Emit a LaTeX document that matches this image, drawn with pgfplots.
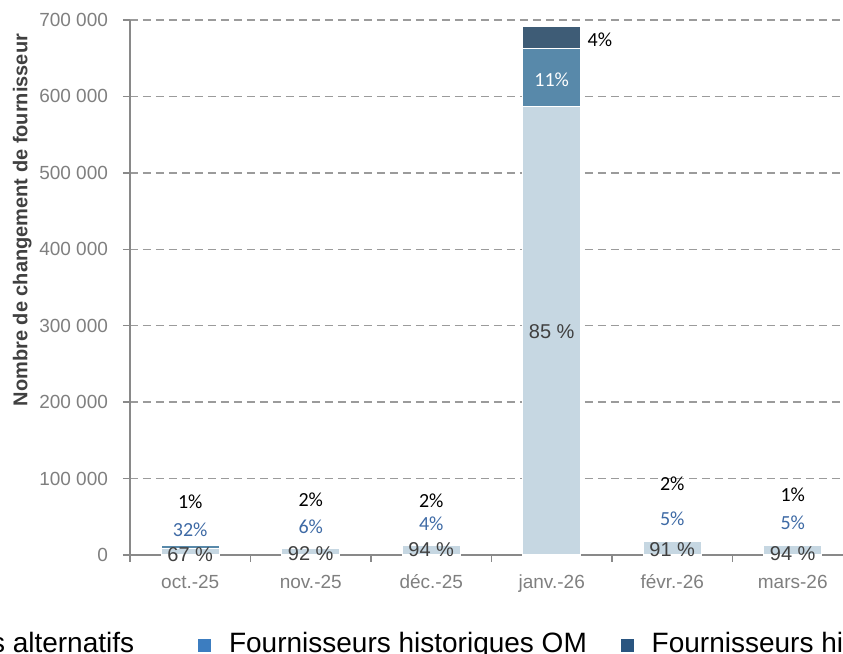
\documentclass[border=0pt]{standalone}
\usepackage{fontspec}
\setmainfont{Liberation Sans}
\newfontfamily\calfont{Carlito}
\usepackage{pgfplots}
\pgfplotsset{compat=1.18}
\definecolor{cLight}{HTML}{C6D7E2}
\definecolor{cMid}{HTML}{5889AA}
\definecolor{cDark}{HTML}{3E5C76}
\definecolor{legMid}{HTML}{3C7DC0}
\definecolor{legDark}{HTML}{2A5580}
\definecolor{axgray}{HTML}{898989}
\definecolor{tickgray}{HTML}{7F7F7F}
\definecolor{lblblue}{HTML}{3E6AA5}
\definecolor{lblgray}{HTML}{404040}
\tikzset{
  pct/.style={font=\calfont\fontsize{10}{12}\selectfont, inner sep=0pt},
  big/.style={font=\fontsize{10}{12}\selectfont, inner sep=0pt, text=lblgray},
}
\begin{document}
\begin{tikzpicture}
\useasboundingbox (0,0) rectangle (421.5pt,327pt);
\begin{axis}[
  at={(65pt,49.5pt)}, anchor=south west,
  scale only axis, width=361.5pt, height=267.5pt,
  xmin=-0.5, xmax=5.5, ymin=0, ymax=700000,
  ybar, bar width=29pt,
  axis x line*=bottom, axis y line*=left,
  axis line style={axgray, line width=0.75pt, -},
  xtick={-0.5,0.5,1.5,2.5,3.5,4.5,5.5},
  xticklabels={},
  extra x ticks={0,1,2,3,4,5},
  extra x tick labels={oct.-25,nov.-25,déc.-25,janv.-26,févr.-26,mars-26},
  extra x tick style={major tick length=0pt, xticklabel style={anchor=base, yshift=-17pt}},
  ytick={0,100000,200000,300000,400000,500000,600000,700000},
  yticklabels={0,100 000,200 000,300 000,400 000,500 000,600 000,700 000},
  scaled y ticks=false,
  /pgf/number format/assume math mode=true,
  tick align=outside, major tick length=3.5pt,
  tick style={draw=axgray, line width=0.75pt},
  ticklabel style={font=\fontsize{9.5}{11}\selectfont, text=tickgray},
  yticklabel style={xshift=-4pt},
  ymajorgrids,
  grid style={axgray!85, line width=0.75pt, dash pattern=on 4pt off 2.5pt},
  ylabel={Nombre de changement de fournisseur},
  ylabel style={at={(axis description cs:-0.149,0.626)}, anchor=center, font=\bfseries\fontsize{10}{12}\selectfont, text=lblgray},
  legend columns=3,
  legend style={at={(axis description cs:-0.4398,-0.1664)}, anchor=west,
    draw=none, fill=none, inner sep=0pt, font=\fontsize{14}{16}\selectfont,
    nodes={inner sep=0pt, text=black},
    /tikz/every even column/.append style={column sep=17pt}},
  clip=false,
]
% cumulative heights, drawn back to front: total (dark top), light+mid, light
\addplot[forget plot, bar shift=0pt, fill=cDark, draw=white, line width=0.6pt]
  coordinates {(0,12530) (1,9460) (2,12980) (3,691000) (4,19600) (5,12980)};
\addplot[forget plot, bar shift=0pt, fill=cMid, draw=white, line width=0.6pt]
  coordinates {(0,12400) (1,9270) (2,12720) (3,663000) (4,19200) (5,12850)};
\addplot[forget plot, bar shift=0pt, fill=cLight, draw=white, line width=0.6pt]
  coordinates {(0,8400) (1,8700) (2,12200) (3,587000) (4,18200) (5,12200)};
\addlegendimage{legend image code/.code={\fill[cLight] (0pt,-3.5pt) rectangle (6pt,2.5pt); \path (15pt,0pt);}}
\addlegendentry{Fournisseurs alternatifs\rule{15pt}{0pt}}
\addlegendimage{legend image code/.code={\fill[legMid] (0pt,-3.5pt) rectangle (6pt,2.5pt); \path (15pt,0pt);}}
\addlegendentry{Fournisseurs historiques OM}
\addlegendimage{legend image code/.code={\fill[legDark] (0pt,-3.5pt) rectangle (6pt,2.5pt); \path (15pt,0pt);}}
\addlegendentry{Fournisseurs historiques hors OM}
\node[pct, text=black] at (axis cs:0,69700) {1\%};
\node[pct, text=black] at (axis cs:1,72000) {2\%};
\node[pct, text=black] at (axis cs:2,71000) {2\%};
\node[pct, text=black] at (axis cs:3.4,674700) {4\%};
\node[pct, text=black] at (axis cs:4,92900) {2\%};
\node[pct, text=black] at (axis cs:5,78500) {1\%};
\node[pct, text=lblblue] at (axis cs:0,33600) {32\%};
\node[pct, text=lblblue] at (axis cs:1,37000) {6\%};
\node[pct, text=lblblue] at (axis cs:2,41500) {4\%};
\node[pct, text=white] at (axis cs:3,621500) {11\%};
\node[pct, text=lblblue] at (axis cs:4,48000) {5\%};
\node[pct, text=lblblue] at (axis cs:5,42300) {5\%};
\node[big] at (axis cs:0,0) {67 \%};
\node[big] at (axis cs:1,2200) {92 \%};
\node[big] at (axis cs:2,6500) {94 \%};
\node[big] at (axis cs:3,291800) {85 \%};
\node[big] at (axis cs:4,6500) {91 \%};
\node[big] at (axis cs:5,2200) {94 \%};
\end{axis}
\end{tikzpicture}
\end{document}
